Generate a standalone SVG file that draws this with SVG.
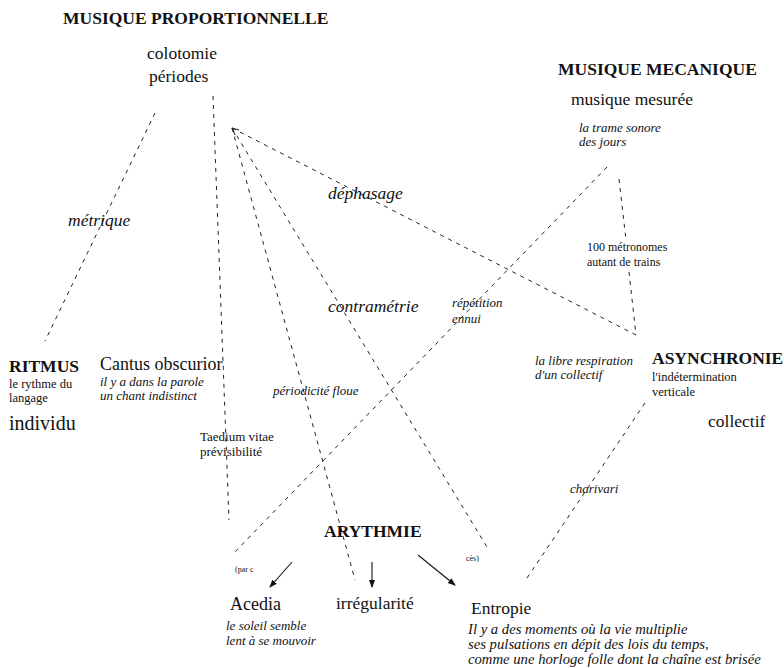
<svg xmlns="http://www.w3.org/2000/svg" width="784" height="668" viewBox="0 0 784 668">
<style>
text{font-family:"Liberation Serif","Times New Roman",serif;fill:#111}
.h{font-weight:bold;font-size:17.5px}
.r{font-size:17.5px}
.s{font-size:12.5px}
.i{font-style:italic;font-size:13px}
.il{font-style:italic;font-size:17.5px}
.q{font-style:italic;font-size:14.7px}
.t{font-size:8px}
.d{stroke:#222;stroke-width:1;stroke-dasharray:4 5;fill:none}
.a{stroke:#111;stroke-width:1.1;fill:none;marker-end:url(#ah)}
</style>
<defs>
<marker id="ah" markerWidth="8" markerHeight="8" refX="7" refY="4" orient="auto" markerUnits="userSpaceOnUse">
<path d="M0,1 L8,4 L0,7 Z" fill="#111"/>
</marker>
</defs>
<rect width="784" height="668" fill="#fff"/>
<g id="connectors">
<line class="d" x1="155" y1="113" x2="45" y2="341"/>
<line class="d" x1="213" y1="96" x2="229" y2="520"/>
<line class="d" x1="232" y1="128" x2="355" y2="580"/>
<line class="d" x1="232" y1="128" x2="487" y2="547"/>
<line class="d" x1="232" y1="128" x2="636" y2="335"/>
<path d="M235,135 L232,128 L239,130" stroke="#222" stroke-width="1" fill="none"/>
<line class="d" x1="607" y1="167" x2="232" y2="555"/>
<line class="d" x1="619" y1="179" x2="626" y2="240"/>
<line class="d" x1="629" y1="272" x2="636" y2="335"/>
<line class="d" x1="645" y1="403" x2="525" y2="581"/>
<line class="a" x1="292" y1="562" x2="270" y2="587"/>
<line class="a" x1="372" y1="562" x2="372" y2="587"/>
<line class="a" x1="418" y1="555" x2="455" y2="585"/>
</g>
<g id="musique-proportionnelle">
<text class="h" x="63" y="24">MUSIQUE PROPORTIONNELLE</text>
<text class="r" x="147" y="59">colotomie</text>
<text class="r" x="149" y="82">périodes</text>
</g>
<g id="musique-mecanique">
<text class="h" x="558" y="75">MUSIQUE MECANIQUE</text>
<text class="r" x="571" y="105">musique mesurée</text>
<text class="i" x="579" y="132">la trame sonore</text>
<text class="i" x="579" y="146">des jours</text>
</g>
<g id="labels">
<text class="il" x="68" y="226">métrique</text>
<text class="il" x="328" y="199">déphasage</text>
<text class="il" x="328" y="312">contramétrie</text>
<text class="i" x="452" y="307">répétition</text>
<text class="i" x="452" y="323">ennui</text>
<text class="s" x="587" y="251" style="font-size:12px">100 métronomes</text>
<text class="s" x="587" y="266" style="font-size:12px">autant de trains</text>
<text class="i" x="535" y="365">la libre respiration</text>
<text class="i" x="535" y="379">d'un collectif</text>
<text class="i" x="570" y="493">charivari</text>
<text class="i" x="273" y="395">périodicité floue</text>
<text class="t" x="235" y="572">(par c</text>
<text class="t" x="466" y="561">cès)</text>
</g>
<g id="asynchronie">
<text class="h" x="652" y="364">ASYNCHRONIE</text>
<text class="s" x="652" y="381">l'indétermination</text>
<text class="s" x="652" y="396">verticale</text>
<text class="r" x="708" y="427">collectif</text>
</g>
<g id="ritmus">
<text class="h" x="9" y="372">RITMUS</text>
<text class="s" x="9" y="388">le rythme du</text>
<text class="s" x="9" y="402">langage</text>
<text class="r" x="9" y="430" style="font-size:20px">individu</text>
</g>
<g id="cantus">
<text class="r" x="100" y="370" style="font-size:18px">Cantus obscurior</text>
<text class="i" x="100" y="386">il y a dans la parole</text>
<text class="i" x="100" y="400">un chant indistinct</text>
</g>
<g id="taedium">
<text class="s" x="200" y="441" style="font-size:13px">Taedium vitae</text>
<text class="s" x="200" y="456" style="font-size:13px">prévisibilité</text>
</g>
<g id="arythmie">
<text class="h" x="324" y="537">ARYTHMIE</text>
</g>
<g id="acedia">
<text class="r" x="230" y="610" style="font-size:18px">Acedia</text>
<text class="i" x="226" y="630">le soleil semble</text>
<text class="i" x="226" y="645">lent à se mouvoir</text>
</g>
<g id="irregularite">
<text class="r" x="336" y="609">irrégularité</text>
</g>
<g id="entropie">
<text class="r" x="471" y="614">Entropie</text>
<text class="q" x="468" y="634">Il y a des moments où la vie multiplie</text>
<text class="q" x="468" y="649">ses pulsations en dépit des lois du temps,</text>
<text class="q" x="468" y="664">comme une horloge folle dont la chaîne est brisée</text>
</g>
</svg>
